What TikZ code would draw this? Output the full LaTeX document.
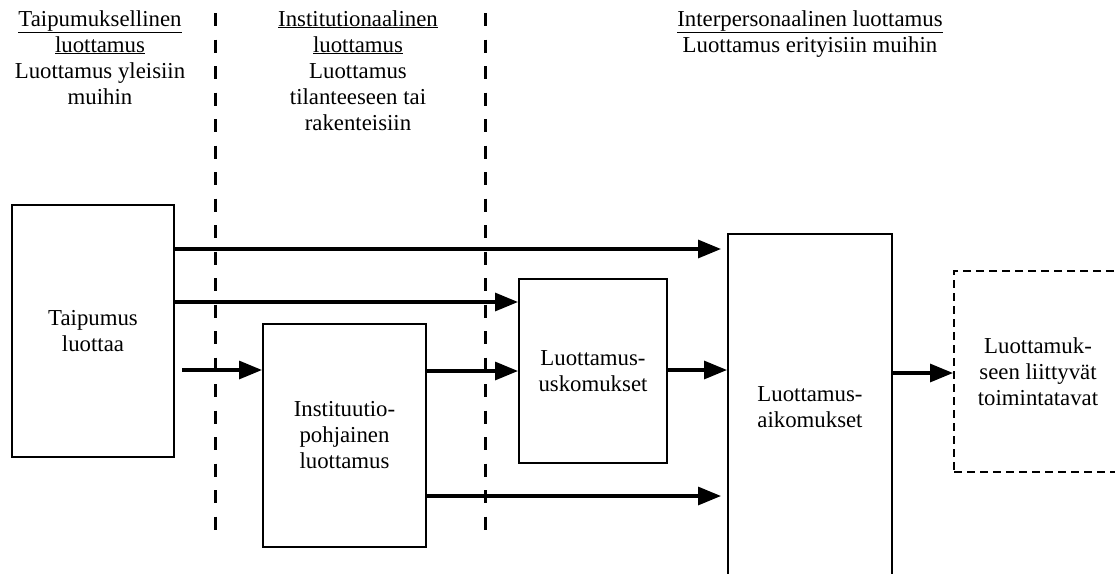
\documentclass[tikz,border=0pt]{standalone}
\usepackage{fontspec}
\setmainfont{Liberation Serif}
\usetikzlibrary{arrows.meta}
\begin{document}
\begin{tikzpicture}[x=1pt,y=-1pt,
  every node/.style={font=\fontsize{22.8}{26}\selectfont, align=center, inner sep=0pt},
  box/.style={draw, line width=2pt, minimum width=#1},
  sep/.style={line width=3pt, dash pattern=on 13pt off 13.5pt},
  arr/.style={line width=3.2pt, -{Triangle[length=23pt,width=18pt]}},
  hdr/.style={anchor=north}]
\clip (0,0) rectangle (1115,573);
\fill[white] (0,0) rectangle (1115,573);
% headers
\node[hdr] (h1) at (100,10) {\underline{Taipumuksellinen}\\\underline{luottamus}\\Luottamus yleisiin\\muihin};
\node[hdr] (h2) at (358,10) {\underline{Institutionaalinen}\\\underline{luottamus}\\Luottamus\\tilanteeseen tai\\rakenteisiin};
\node[hdr] (h3) at (810,10) {\underline{Interpersonaalinen luottamus}\\Luottamus erityisiin muihin};
% separators
\coordinate (s1t) at (215,13); \coordinate (s1b) at (215,535);
\coordinate (s2t) at (485,13); \coordinate (s2b) at (485,535);
\draw[sep] (s1t) -- (s1b);
\draw[sep] (s2t) -- (s2b);
% boxes
\node[box=162pt, minimum height=252pt] (b1) at (93,331) {Taipumus\\luottaa};
\node[box=163pt, minimum height=223pt] (b2) at (344.5,435.5) {Instituutio-\\pohjainen\\luottamus};
\node[box=148pt, minimum height=184pt] (b3) at (593,371) {Luottamus-\\uskomukset};
\node[box=164pt, minimum height=346pt] (b4) at (810,407) {Luottamus-\\aikomukset};
\node[draw, line width=2pt, dash pattern=on 8pt off 5pt, minimum width=168pt, minimum height=201pt] (b5) at (1038,371.5) {Luottamuk-\\seen liittyvät\\toimintatavat};
% connector helper coordinates
\coordinate (a1e) at ([xshift=-6pt]b4.west |- 0,249);
\coordinate (b2in) at (182,370);
\coordinate (a5e) at ([xshift=-6pt]b4.west |- 0,496);
% arrows
\draw[arr] (b1.east |- a1e) -- (a1e);
\draw[arr] (b1.east |- 0,302) -- (b3.west |- 0,302);
\draw[arr] (b2in) -- (b2.west |- b2in);
\draw[arr] (b2.east |- 0,371) -- (b3.west |- 0,371);
\draw[arr] (b2.east |- a5e) -- (a5e);
\draw[arr] (b3.east |- 0,370) -- (b4.west |- 0,370);
\draw[arr] (b4.east |- 0,373) -- (b5.west |- 0,373);
\end{tikzpicture}
\end{document}
